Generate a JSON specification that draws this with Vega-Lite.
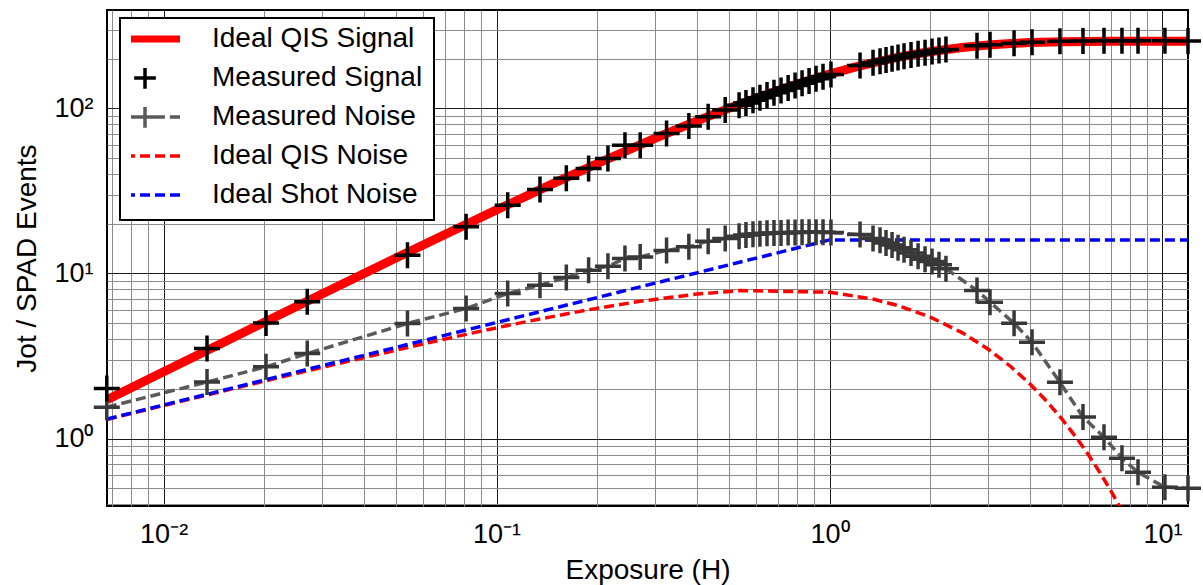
{
  "$schema": "https://vega.github.io/schema/vega-lite/v6.json",
  "width": 1081,
  "height": 496,
  "autosize": "none",
  "padding": {"left": 107, "top": 10, "right": 15, "bottom": 79},
  "background": "#ffffff",
  "config": {
    "font": "Liberation Sans",
    "view": {"stroke": "#000000", "strokeWidth": 2},
    "axis": {
      "domain": false,
      "ticks": false,
      "grid": true,
      "gridOpacity": 1,
      "gridWidth": 1,
      "labelFontSize": 27,
      "labelColor": "#000000",
      "labelOverlap": false,
      "titleFontSize": 28,
      "titleFontWeight": "normal",
      "titleColor": "#000000"
    }
  },
  "datasets": {
    "ideal_signal": [
      {"H": 0.00676, "v": 1.718}, {"H": 0.01, "v": 2.537}, {"H": 0.015, "v": 3.796}, {"H": 0.02, "v": 5.049},
      {"H": 0.03, "v": 7.536}, {"H": 0.05, "v": 12.44}, {"H": 0.07, "v": 17.24}, {"H": 0.1, "v": 24.27},
      {"H": 0.15, "v": 35.52}, {"H": 0.2, "v": 46.22}, {"H": 0.3, "v": 66.09}, {"H": 0.4, "v": 84.07},
      {"H": 0.5, "v": 100.33}, {"H": 0.6, "v": 115.05}, {"H": 0.7, "v": 128.37}, {"H": 0.8, "v": 140.42},
      {"H": 0.9, "v": 151.32}, {"H": 1.0, "v": 161.19}, {"H": 1.2, "v": 178.2}, {"H": 1.4, "v": 192.12},
      {"H": 1.6, "v": 203.52}, {"H": 1.8, "v": 212.85}, {"H": 2.0, "v": 220.49}, {"H": 2.5, "v": 234.07},
      {"H": 3.0, "v": 242.3}, {"H": 3.5, "v": 247.3}, {"H": 4.0, "v": 250.33}, {"H": 5.0, "v": 253.28},
      {"H": 6.0, "v": 254.37}, {"H": 7.0, "v": 254.77}, {"H": 8.0, "v": 254.91}, {"H": 10.0, "v": 254.99},
      {"H": 11.93, "v": 255.0}
    ],
    "qis_noise": [
      {"H": 0.00675, "v": 1.305}, {"H": 0.0135, "v": 1.837}, {"H": 0.0203, "v": 2.241}, {"H": 0.027, "v": 2.571},
      {"H": 0.054, "v": 3.564}, {"H": 0.081, "v": 4.278}, {"H": 0.108, "v": 4.841}, {"H": 0.135, "v": 5.304},
      {"H": 0.19, "v": 6.041}, {"H": 0.27, "v": 6.787}, {"H": 0.4, "v": 7.507}, {"H": 0.54, "v": 7.874},
      {"H": 1.0, "v": 7.701}, {"H": 1.35, "v": 6.998}, {"H": 1.6, "v": 6.41}, {"H": 2.0, "v": 5.463},
      {"H": 2.5, "v": 4.383}, {"H": 3.0, "v": 3.473}, {"H": 3.5, "v": 2.733}, {"H": 4.0, "v": 2.141},
      {"H": 4.5, "v": 1.674}, {"H": 5.0, "v": 1.306}, {"H": 5.5, "v": 1.019}, {"H": 6.0, "v": 0.794},
      {"H": 6.5, "v": 0.619}, {"H": 7.0, "v": 0.482}, {"H": 7.5, "v": 0.375}, {"H": 8.0, "v": 0.292}
    ],
    "shot_noise": [
      {"H": 0.00675, "v": 1.312}, {"H": 0.0135, "v": 1.855}, {"H": 0.0203, "v": 2.275}, {"H": 0.027, "v": 2.624},
      {"H": 0.054, "v": 3.711}, {"H": 0.081, "v": 4.545}, {"H": 0.108, "v": 5.248}, {"H": 0.135, "v": 5.867},
      {"H": 0.27, "v": 8.298}, {"H": 0.54, "v": 11.73}, {"H": 1.0, "v": 15.97}, {"H": 11.93, "v": 15.97}
    ],
    "measured_signal": [
      {"H": 0.00675, "v": 2.01}, {"H": 0.0135, "v": 3.51}, {"H": 0.0203, "v": 5.02}, {"H": 0.027, "v": 6.73},
      {"H": 0.054, "v": 12.9}, {"H": 0.081, "v": 19.2}, {"H": 0.108, "v": 25.9}, {"H": 0.135, "v": 32.3},
      {"H": 0.162, "v": 37.7}, {"H": 0.189, "v": 43.3}, {"H": 0.216, "v": 49.8}, {"H": 0.243, "v": 59.9},
      {"H": 0.27, "v": 59.9}, {"H": 0.324, "v": 70.5}, {"H": 0.378, "v": 78.1}, {"H": 0.432, "v": 89.0},
      {"H": 0.486, "v": 97.7}, {"H": 0.535, "v": 104.5}, {"H": 0.561, "v": 108.0}, {"H": 0.589, "v": 112.0},
      {"H": 0.618, "v": 116.0}, {"H": 0.649, "v": 120.5}, {"H": 0.681, "v": 124.5}, {"H": 0.715, "v": 128.5},
      {"H": 0.751, "v": 133.0}, {"H": 0.788, "v": 137.5}, {"H": 0.827, "v": 142.0}, {"H": 0.868, "v": 146.5},
      {"H": 0.911, "v": 151.0}, {"H": 0.956, "v": 155.5}, {"H": 1.01, "v": 160.5}, {"H": 1.235, "v": 182},
      {"H": 1.351, "v": 189}, {"H": 1.418, "v": 193}, {"H": 1.478, "v": 196.5}, {"H": 1.541, "v": 200},
      {"H": 1.606, "v": 203.5}, {"H": 1.674, "v": 207}, {"H": 1.757, "v": 210.5}, {"H": 1.845, "v": 214},
      {"H": 1.936, "v": 217.5}, {"H": 2.032, "v": 221}, {"H": 2.132, "v": 224}, {"H": 2.237, "v": 227.5},
      {"H": 2.773, "v": 240}, {"H": 3.034, "v": 243}, {"H": 3.583, "v": 248.5}, {"H": 4.057, "v": 251.5},
      {"H": 4.921, "v": 255}, {"H": 5.771, "v": 256}, {"H": 6.673, "v": 256.5}, {"H": 7.556, "v": 257},
      {"H": 8.443, "v": 257}, {"H": 10.17, "v": 257}, {"H": 11.93, "v": 256}
    ],
    "measured_noise": [
      {"H": 0.00675, "v": 1.55}, {"H": 0.0135, "v": 2.2}, {"H": 0.0203, "v": 2.72}, {"H": 0.027, "v": 3.27},
      {"H": 0.054, "v": 4.98}, {"H": 0.081, "v": 6.14}, {"H": 0.108, "v": 7.57}, {"H": 0.135, "v": 8.49},
      {"H": 0.162, "v": 9.46}, {"H": 0.189, "v": 10.47}, {"H": 0.216, "v": 11.07}, {"H": 0.243, "v": 12.33},
      {"H": 0.27, "v": 12.6}, {"H": 0.324, "v": 13.8}, {"H": 0.378, "v": 14.5}, {"H": 0.432, "v": 15.7},
      {"H": 0.486, "v": 16.3}, {"H": 0.535, "v": 16.8}, {"H": 0.561, "v": 17.1}, {"H": 0.589, "v": 17.3},
      {"H": 0.618, "v": 17.4}, {"H": 0.649, "v": 17.5}, {"H": 0.681, "v": 17.6}, {"H": 0.715, "v": 17.6},
      {"H": 0.751, "v": 17.7}, {"H": 0.788, "v": 17.7}, {"H": 0.827, "v": 17.8}, {"H": 0.868, "v": 17.8},
      {"H": 0.911, "v": 17.8}, {"H": 0.956, "v": 17.8}, {"H": 1.01, "v": 17.7}, {"H": 1.235, "v": 17.2},
      {"H": 1.351, "v": 16.3}, {"H": 1.418, "v": 15.9}, {"H": 1.478, "v": 15.3}, {"H": 1.541, "v": 14.9},
      {"H": 1.606, "v": 14.3}, {"H": 1.674, "v": 13.9}, {"H": 1.757, "v": 13.3}, {"H": 1.845, "v": 12.7},
      {"H": 1.936, "v": 12.2}, {"H": 2.032, "v": 11.8}, {"H": 2.132, "v": 11.3}, {"H": 2.237, "v": 10.7},
      {"H": 2.773, "v": 7.9}, {"H": 3.034, "v": 6.7}, {"H": 3.583, "v": 5.0}, {"H": 4.057, "v": 3.83},
      {"H": 4.921, "v": 2.19}, {"H": 5.771, "v": 1.35}, {"H": 6.673, "v": 1.02}, {"H": 7.556, "v": 0.76},
      {"H": 8.443, "v": 0.625}, {"H": 10.17, "v": 0.507}, {"H": 11.93, "v": 0.5}
    ]
  },
  "encoding": {
    "x": {
      "field": "H",
      "type": "quantitative",
      "scale": {"type": "log", "domain": [0.00676, 11.93], "nice": false},
      "axis": {
        "title": "Exposure (H)",
        "titlePadding": 9,
        "labelPadding": 15,
        "values": [0.007, 0.008, 0.009, 0.01, 0.02, 0.03, 0.04, 0.05, 0.06, 0.07, 0.08, 0.09, 0.1, 0.2, 0.3, 0.4, 0.5, 0.6, 0.7, 0.8, 0.9, 1, 2, 3, 4, 5, 6, 7, 8, 9, 10],
        "labelExpr": "abs(log(datum.value)/LN10 - round(log(datum.value)/LN10)) < 0.001 ? '10' + ['⁻²','⁻¹','⁰','¹','²'][round(log(datum.value)/LN10) + 2] : ''",
        "gridColor": {"condition": {"test": "abs(log(datum.value)/LN10 - round(log(datum.value)/LN10)) < 0.001", "value": "#1a1a1a"}, "value": "#8c8c8c"}
      }
    },
    "y": {
      "field": "v",
      "type": "quantitative",
      "scale": {"type": "log", "domain": [0.3904, 394.5], "nice": false},
      "axis": {
        "title": "Jot / SPAD Events",
        "titlePadding": 12,
        "labelPadding": 14,
        "values": [0.4, 0.5, 0.6, 0.7, 0.8, 0.9, 1, 2, 3, 4, 5, 6, 7, 8, 9, 10, 20, 30, 40, 50, 60, 70, 80, 90, 100, 200, 300],
        "labelExpr": "abs(log(datum.value)/LN10 - round(log(datum.value)/LN10)) < 0.001 ? '10' + ['⁻²','⁻¹','⁰','¹','²'][round(log(datum.value)/LN10) + 2] : ''",
        "gridColor": {"condition": {"test": "abs(log(datum.value)/LN10 - round(log(datum.value)/LN10)) < 0.001", "value": "#1a1a1a"}, "value": "#8c8c8c"}
      }
    }
  },
  "layer": [
    {
      "data": {"name": "ideal_signal"},
      "mark": {"type": "line", "strokeWidth": 9, "clip": true},
      "encoding": {
        "color": {
          "datum": "Ideal QIS Signal",
          "scale": {
            "domain": ["Ideal QIS Signal", "Measured Signal", "Measured Noise", "Ideal QIS Noise", "Ideal Shot Noise"],
            "range": ["#ff0000", "#000000", "#5a5a5a", "#ff0000", "#0000ff"]
          },
          "legend": {
            "title": null,
            "orient": "none",
            "legendX": 13,
            "legendY": 8,
            "padding": 11,
            "rowPadding": 11,
            "symbolSize": 4900,
            "clipHeight": 20,
            "labelOffset": 53,
            "labelFontSize": 28,
            "labelFont": "Liberation Sans",
            "labelColor": "#000000",
            "labelLimit": 400,
            "strokeColor": "#000000",
            "fillColor": "#ffffff",
            "encode": {
              "legend": {"update": {"stroke": {"value": "#000000"}, "strokeWidth": {"value": 2}, "fill": {"value": "#ffffff"}}},
              "symbols": {
                "update": {
                  "shape": {"signal": "datum.value == 'Measured Signal' ? 'M-0.31,0H0.31M0,-0.31V0.31' : datum.value == 'Measured Noise' ? 'M-1,0H-0.71M-0.57,0H-0.29M0.29,0H0.57M0.71,0H1M-0.31,0H0.31M0,-0.31V0.31' : 'M-1,0H1'"},
                  "stroke": {"signal": "datum.value == 'Ideal QIS Signal' || datum.value == 'Ideal QIS Noise' ? '#ff0000' : datum.value == 'Ideal Shot Noise' ? '#0000ff' : datum.value == 'Measured Noise' ? '#555555' : '#000000'"},
                  "strokeWidth": {"signal": "datum.value == 'Ideal QIS Signal' ? 7 : 3.5"},
                  "strokeDash": {"signal": "datum.value == 'Ideal QIS Noise' || datum.value == 'Ideal Shot Noise' ? [10, 5] : [1, 0]"},
                  "fill": {"value": "transparent"},
                  "size": {"value": 4900},
                  "opacity": {"value": 1}
                }
              }
            }
          }
        }
      }
    },
    {
      "data": {"name": "qis_noise"},
      "mark": {"type": "line", "strokeWidth": 3.5, "strokeDash": [10, 5], "clip": true},
      "encoding": {"color": {"datum": "Ideal QIS Noise"}}
    },
    {
      "data": {"name": "shot_noise"},
      "mark": {"type": "line", "strokeWidth": 3.5, "strokeDash": [10, 5], "clip": true},
      "encoding": {"color": {"datum": "Ideal Shot Noise"}}
    },
    {
      "data": {"name": "measured_noise"},
      "mark": {"type": "line", "strokeWidth": 3.5, "strokeDash": [10, 5], "clip": true},
      "encoding": {"color": {"datum": "Measured Noise"}}
    },
    {
      "data": {"name": "measured_noise"},
      "mark": {"type": "point", "shape": "M-1,0H1M0,-1V1", "filled": false, "size": 676, "strokeWidth": 3.5, "opacity": 1, "color": "#383838"}
    },
    {
      "data": {"name": "measured_signal"},
      "mark": {"type": "point", "shape": "M-1,0H1M0,-1V1", "filled": false, "size": 676, "strokeWidth": 3.5, "opacity": 1},
      "encoding": {"color": {"datum": "Measured Signal"}}
    }
  ]
}
